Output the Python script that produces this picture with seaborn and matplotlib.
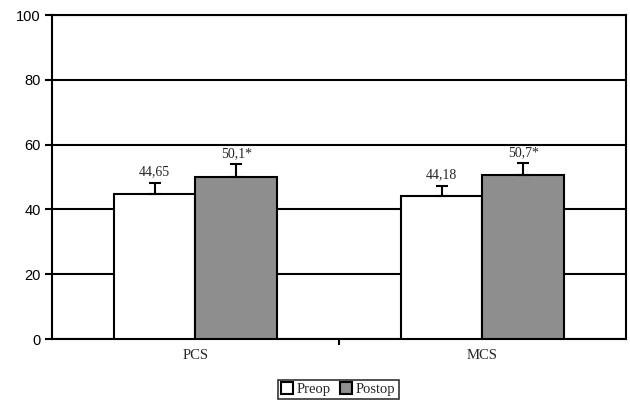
import matplotlib
matplotlib.use("Agg")
import matplotlib.pyplot as plt
import pandas as pd
import seaborn as sns

categories = ["PCS", "MCS"]
groups = ["Preop", "Postop"]
preop = [44.65, 44.18]
postop = [50.1, 50.7]
preop_err = [3.6, 3.2]
postop_err = [3.8, 3.5]
labels_pre = ["44,65", "44,18"]
labels_post = ["50,1*", "50,7*"]

df = pd.DataFrame({
    "cat": categories * 2,
    "group": ["Preop"] * 2 + ["Postop"] * 2,
    "value": preop + postop,
    "err": preop_err + postop_err,
    "label": labels_pre + labels_post,
})

sns.set_theme(style="white")
plt.rcParams["font.family"] = ["Liberation Sans", "DejaVu Sans"]

fig = plt.figure(figsize=(6.3, 4.08), dpi=100)
ax = fig.add_axes([0.0825, 0.169, 0.911, 0.794])

sns.barplot(ax=ax, data=df, x="cat", y="value", hue="group",
            hue_order=groups, order=categories,
            palette={"Preop": "white", "Postop": "#8e8e8e"},
            edgecolor="black", linewidth=1.5, width=0.57,
            errorbar=None, legend=False, zorder=3)

# error bars (upper only) and value labels
for container, g in zip(ax.containers, groups):
    sub = df[df["group"] == g].set_index("cat").loc[categories]
    for bar, (_, row) in zip(container, sub.iterrows()):
        xc = bar.get_x() + bar.get_width() / 2
        h = bar.get_height()
        ax.errorbar(xc, h, yerr=[[0], [row["err"]]], fmt="none",
                    ecolor="black", elinewidth=1.5, capsize=4,
                    capthick=1.5, zorder=4)
        ax.text(xc, h + row["err"] + 1.3, row["label"], ha="center",
                va="bottom", fontsize=10, family="Liberation Serif",
                zorder=5)

ax.set_ylim(0, 100)
ax.set_xlim(-0.5, 1.5)
ax.set_yticks([0, 20, 40, 60, 80, 100])
ax.yaxis.grid(True, color="black", linewidth=1.5)
ax.set_axisbelow(True)
ax.set_xlabel("")
ax.set_ylabel("")

for s in ax.spines.values():
    s.set_visible(True)
    s.set_color("black")
    s.set_linewidth(1.5)

ax.tick_params(axis="y", direction="out", length=5, width=1.5,
               labelsize=10.5, left=True, colors="black", pad=3)
ax.tick_params(axis="x", which="major", length=0, labelsize=10.5, pad=7)
for t in ax.get_xticklabels():
    t.set_family("Liberation Serif")
ax.set_xticks([0.5], minor=True)
ax.tick_params(axis="x", which="minor", direction="out", length=4,
               width=1.5, bottom=True, color="black")

handles = [plt.Rectangle((0, 0), 1, 1, facecolor=c, edgecolor="black",
                         linewidth=1.5)
           for c in ["white", "#8e8e8e"]]
leg = fig.legend(handles, groups, loc="lower center",
                 bbox_to_anchor=(0.537, 0.022), ncol=2, frameon=True,
                 fancybox=False, prop={"family": "Liberation Serif", "size": 10.5},
                 handlelength=0.8, handleheight=0.8, handletextpad=0.3,
                 columnspacing=0.6, borderpad=0.2, borderaxespad=0)
leg.get_frame().set_edgecolor("black")
leg.get_frame().set_linewidth(1.2)

fig.savefig("out.png", dpi=100)
